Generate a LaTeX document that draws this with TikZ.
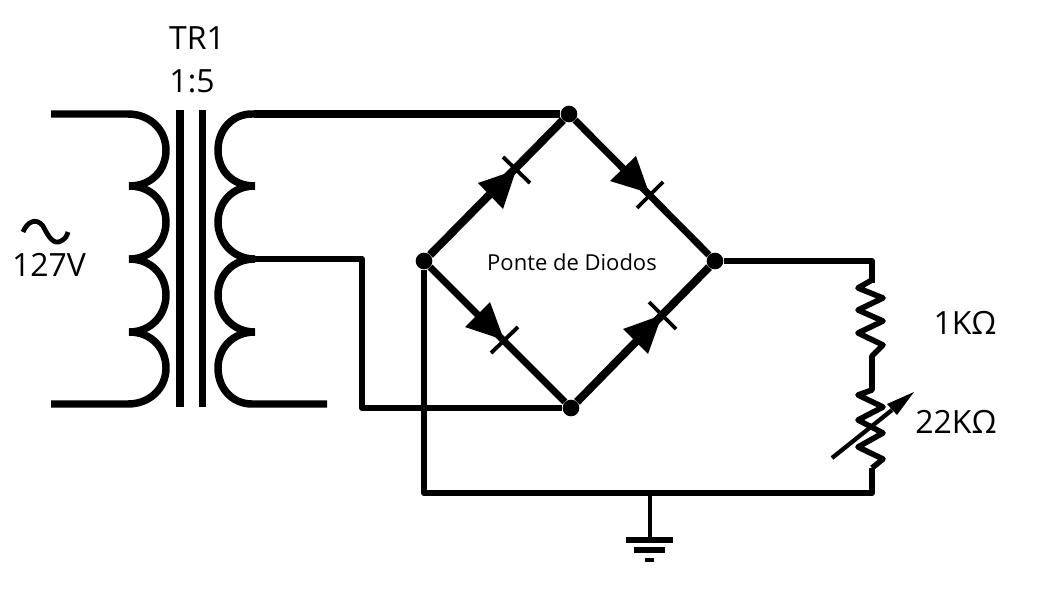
\documentclass[tikz,border=0pt]{standalone}
\usepackage{fontspec}
\setmainfont{Open Sans}
\usetikzlibrary{calc}
\tikzset{
  wire/.style={line width=4.6pt,line join=round,line cap=butt},
  topwire/.style={line width=5.4pt,line cap=butt},
  coil/.style={line width=5.6pt,line join=bevel,line cap=butt},
  bridge/.style={line width=6pt,line cap=butt},
  bridgethin/.style={line width=5.2pt,line cap=butt},
  junction/.style={circle,fill=black,inner sep=0pt,minimum size=12.5pt},
  thinbar/.style={line width=2.9pt},
  diodehead/.style={fill=black,draw=none},
  biglabel/.style={inner sep=0pt,font=\fontsize{24}{24}\selectfont},
  smalllabel/.style={inner sep=0pt,font=\fontsize{16.5}{17}\selectfont},
  zigzag/.style={line width=4.2pt,line join=round}
}
\begin{document}
\begin{tikzpicture}[x=0.75pt,y=-0.75pt]
\useasboundingbox (0,0) rectangle (1040,600);
\fill[white] (0,0) rectangle (1040,600);

% bridge junctions
\node[junction] (top) at (569,114) {};
\node[junction] (left) at (424,261) {};
\node[junction] (right) at (715,261) {};
\node[junction] (bot) at (571,408) {};

% free ends
\coordinate (pA) at (51,114);
\coordinate (pB) at (51,404);
\coordinate (sEnd) at (327,404);
\coordinate (sTop) at (254,114);
\coordinate (sMid) at (254,259);
\coordinate (bendA) at (362,259);
\coordinate (bendB) at (362,408);
\coordinate (corner1) at (872,261);
\coordinate (corner2) at (872,493);
\coordinate (corner3) at (424,493);
\coordinate (gnd) at (650,493);
\coordinate (gndBar) at (650,540);

% primary winding
\draw[coil] (pA) -- (128,114)
  .. controls (150,114) and (166,130) .. (166,150)
  .. controls (166,170) and (152,186) .. (129,186)
  .. controls (152,186) and (166,203) .. (166,222)
  .. controls (166,241) and (152,259) .. (129,259)
  .. controls (152,259) and (166,276) .. (166,295)
  .. controls (166,314) and (152,332) .. (129,332)
  .. controls (152,332) and (166,349) .. (166,368)
  .. controls (166,388) and (150,404) .. (128,404) -- (pB);

% core
\draw[line width=5.4pt] (180,110) -- (180,407);
\draw[line width=5.4pt] (202.5,110) -- (202.5,407);

% secondary winding
\draw[coil] (sTop) -- (252,114)
  .. controls (232,114) and (218,130) .. (218,150)
  .. controls (218,170) and (232,186) .. (255,186)
  .. controls (232,186) and (218,203) .. (218,222)
  .. controls (218,241) and (232,259) .. (255,259)
  .. controls (232,259) and (218,276) .. (218,295)
  .. controls (218,314) and (232,332) .. (255,332)
  .. controls (232,332) and (218,349) .. (218,368)
  .. controls (218,388) and (232,404) .. (252,404) -- (sEnd);

% wiring
\draw[topwire] (sTop) -- (top);
\draw[wire] (sMid) -- (bendA) -- (bendB) -- (bot);
\draw[wire] (right) -- (corner1) -- (872,283);
\draw[wire] (left) -- (corner3) -- (corner2) -- (872,468);
\draw[line width=3.6pt] (gnd) -- (gndBar);

% bridge arms
\draw[bridge] (left) -- (top);
\draw[bridgethin] (top) -- (right);
\draw[bridgethin] (left) -- (bot);
\draw[bridge] (bot) -- (right);

% diodes
\fill[diodehead] (516,170) -- (478,183) -- (503,209) -- cycle;
\draw[thinbar] (503,157) -- (530,183);
\fill[diodehead] (649,193) -- (610,181) -- (636,156) -- cycle;
\draw[thinbar] (637,208) -- (663,182);
\fill[diodehead] (504,340) -- (465,327) -- (490,302) -- cycle;
\draw[thinbar] (491,353) -- (518,327);
\fill[diodehead] (662,315) -- (623,329) -- (648,354) -- cycle;
\draw[thinbar] (649,302) -- (676,329);

% resistors
\draw[zigzag] (872,280) -- (858,288) -- (883,298) -- (858,310) -- (883,321) -- (858,333) -- (883,345) -- (872,356) -- (872,390)
  -- (858,395) -- (883,407) -- (858,420) -- (883,433) -- (858,447) -- (883,459) -- (872,468);

% variable-resistor arrow
\coordinate (arrowTail) at (832,458);
\coordinate (arrowTip) at (914,392);
\draw[line width=3.2pt] (arrowTail) -- (892,410);
\fill (arrowTip) -- (887,404) -- (897,415) -- cycle;

% ground
\draw[line width=3.8pt] (626,540) -- (673,540);
\draw[line width=3.8pt] (634,550) -- (665,550);
\draw[line width=3.4pt] (645,560) -- (654,560);

% tilde
\draw[line width=3.6pt] (23,232) .. controls (27,222) and (36,217) .. (43,226)
  .. controls (49,238) and (54,245) .. (61,241) .. controls (65,239) and (67,236) .. (68,232);

% labels
\node[biglabel] (tr) at (197,38) {TR1};
\node[biglabel] (ratio) at (192,81) {1:5};
\node[biglabel] (volt) at (49,265) {127V};
\node[biglabel] (r1) at (965,323) {1KΩ};
\node[biglabel] (r2) at (956,422) {22KΩ};
\node[smalllabel] (title) at (572,262) {Ponte de Diodos};
\end{tikzpicture}
\end{document}
